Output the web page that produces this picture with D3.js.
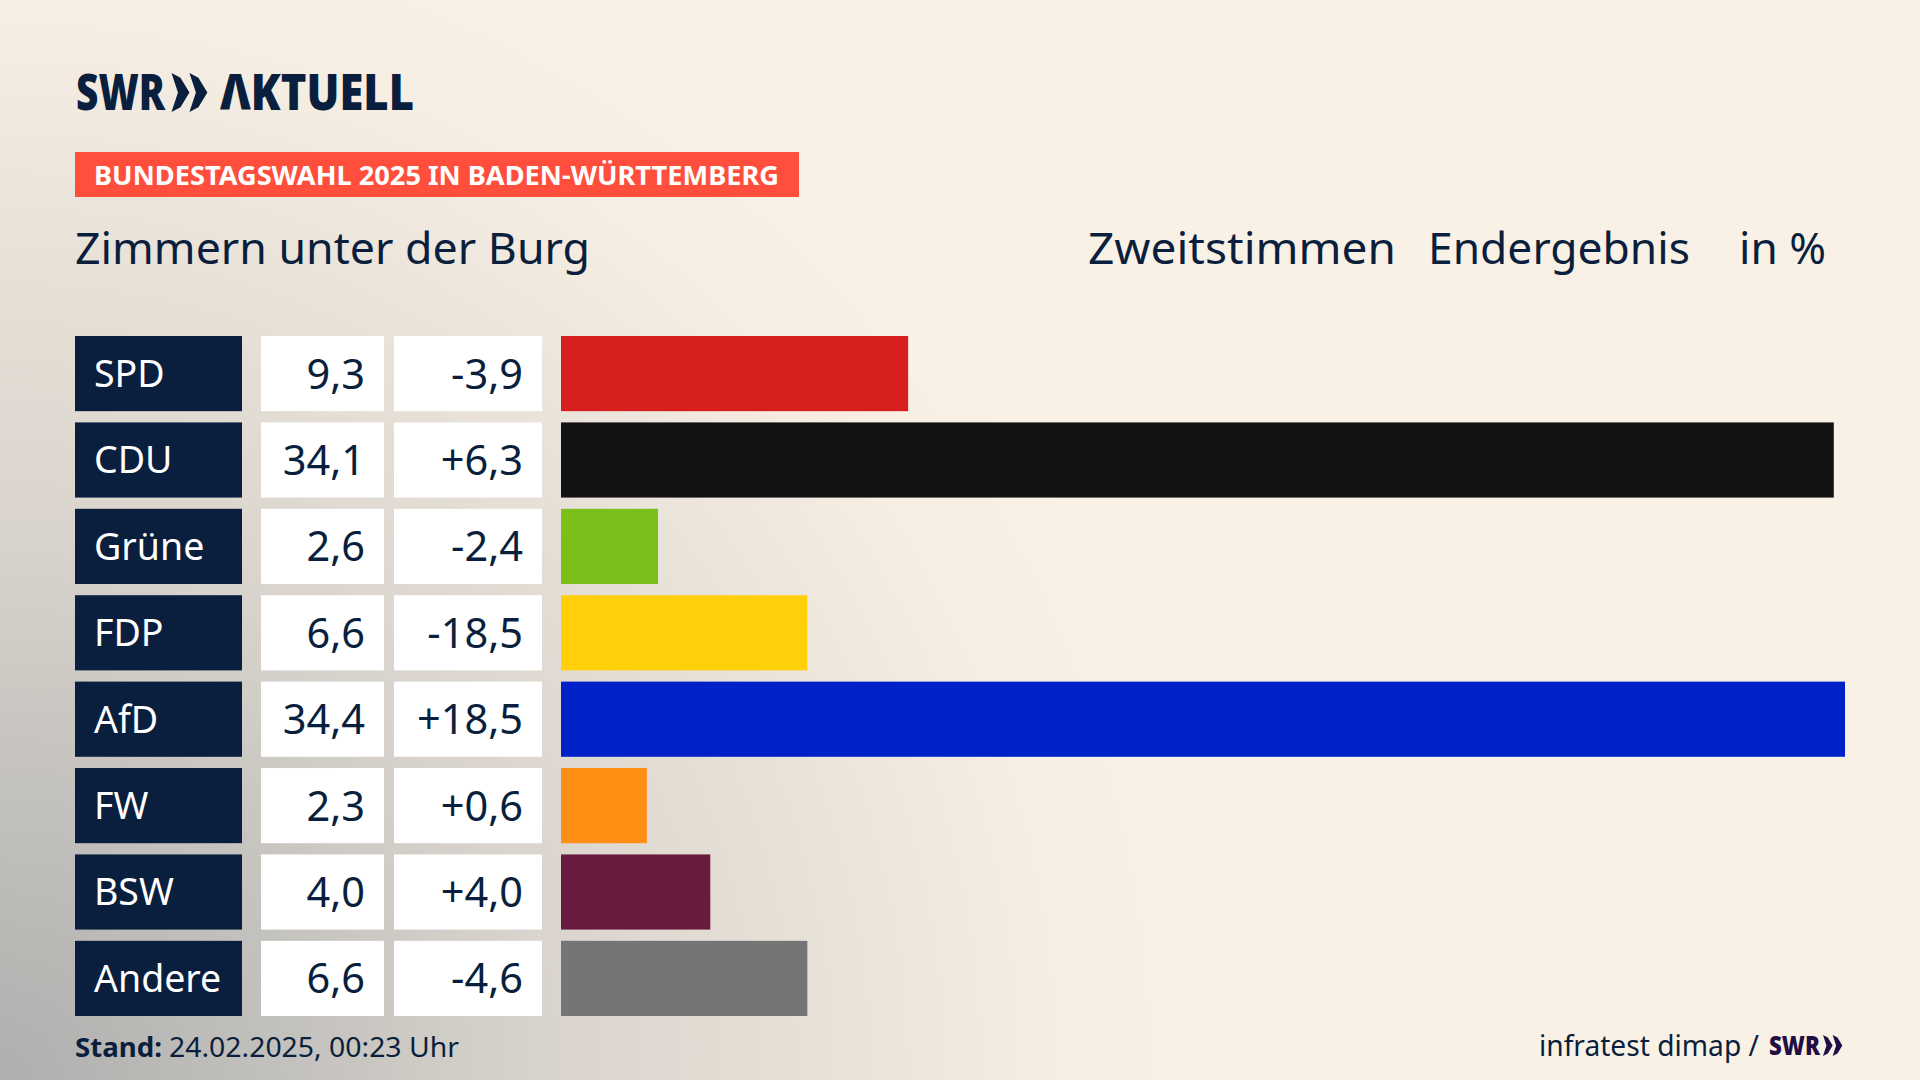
<!DOCTYPE html>
<html>
<head>
<meta charset="utf-8">
<script src="https://cdn.jsdelivr.net/npm/d3@7"></script>
<style>
html, body { margin: 0; padding: 0; background: #faf1e6; }
svg { display: block; }
text { font-family: "Noto Sans", sans-serif; fill: #0a1f3d; }
</style>
</head>
<body>
<svg id="chart" width="1920" height="1080"></svg>
<script>
var parties = ["SPD", "CDU", "Grüne", "FDP", "AfD", "FW", "BSW", "Andere"];
var results = [9.3, 34.1, 2.6, 6.6, 34.4, 2.3, 4.0, 6.6];
var changes = [-3.9, 6.3, -2.4, -18.5, 18.5, 0.6, 4.0, -4.6];
var colors = ["#d81f1f", "#121212", "#7abf1a", "#ffcf0a", "#0021c8", "#ff8f14", "#691a3e", "#737577"];

var navy = "#0a1f3d";
var de = d3.formatLocale({decimal: ",", thousands: ".", grouping: [3], currency: ["", "€"], minus: "-"});
var fmtValue = de.format(".1f");
var fmtChange = de.format("+.1f");

var svg = d3.select("#chart");

// background, grey corner bottom left
var defs = svg.append("defs");
var grad = defs.append("radialGradient")
    .attr("id", "corner")
    .attr("gradientUnits", "userSpaceOnUse")
    .attr("cx", 0).attr("cy", 0).attr("r", 1)
    .attr("gradientTransform", "translate(0,1080) scale(1200,1200)");
[[0, "#afafae"], [0.25, "#c4c2be"], [0.45, "#d8d3cc"], [0.65, "#e6dfd6"], [0.88, "#f6eee3"], [1, "#faf1e6"]].forEach(function(s) {
    grad.append("stop").attr("offset", s[0]).attr("stop-color", s[1]);
});
svg.append("rect").attr("width", 1920).attr("height", 1080).attr("fill", "url(#corner)");

var x = d3.scaleLinear().domain([0, 34.4]).range([561, 1845]);
var y = d3.scaleBand().domain(parties).range([336, 1016]).paddingInner(0.13);

var rows = svg.selectAll("g.row")
    .data(parties)
    .enter()
    .append("g")
    .attr("class", "row")
    .attr("transform", function(d) { return "translate(0," + y(d) + ")"; });

rows.append("rect")
    .attr("x", 75).attr("width", 167).attr("height", y.bandwidth())
    .attr("fill", navy);
rows.append("rect")
    .attr("x", 261).attr("width", 123).attr("height", y.bandwidth())
    .attr("fill", "#fff");
rows.append("rect")
    .attr("x", 394).attr("width", 148).attr("height", y.bandwidth())
    .attr("fill", "#fff");
rows.append("rect")
    .attr("x", x(0))
    .attr("width", function(d, i) { return x(results[i]) - x(0); })
    .attr("height", y.bandwidth())
    .attr("fill", function(d, i) { return colors[i]; });

rows.append("text")
    .attr("x", 94).attr("y", 51)
    .style("font-size", "37.5px")
    .style("fill", "#fff")
    .text(function(d) { return d; });
rows.append("text")
    .attr("x", 365).attr("y", 52.5)
    .attr("text-anchor", "end")
    .style("font-size", "41.5px")
    .text(function(d, i) { return fmtValue(results[i]); });
rows.append("text")
    .attr("x", 523).attr("y", 52.5)
    .attr("text-anchor", "end")
    .style("font-size", "41.5px")
    .text(function(d, i) { return fmtChange(changes[i]); });

// fixed width text, the original typeface is narrower than Noto Sans
function label(str, left, base, size, width, weight, color) {
    return svg.append("text")
        .attr("x", left).attr("y", base)
        .attr("textLength", width)
        .attr("lengthAdjust", "spacingAndGlyphs")
        .style("font-size", size + "px")
        .style("font-weight", weight || 400)
        .style("fill", color || navy)
        .text(str);
}

function chevrons(left, top, h, color) {
    var w = h * 0.46;
    [0, w].forEach(function(off) {
        var p = d3.path();
        p.moveTo(left + off, top);
        p.lineTo(left + off + w * 0.5, top + h * 0.12);
        p.lineTo(left + off + w, top + h / 2);
        p.lineTo(left + off + w * 0.5, top + h * 0.88);
        p.lineTo(left + off, top + h);
        p.lineTo(left + off + w * 0.36, top + h / 2);
        p.closePath();
        svg.append("path").attr("d", p.toString()).attr("fill", color);
    });
}

label("SWR", 76, 110, 49, 89, 900);
chevrons(171.5, 73, 39, navy);
label("ΛKTUELL", 220, 110, 49, 194, 900);

svg.append("rect").attr("x", 75).attr("y", 152).attr("width", 724).attr("height", 45).attr("fill", "#ff4f3c");
label("BUNDESTAGSWAHL 2025 IN BADEN-WÜRTTEMBERG", 94, 184.5, 27, 685, 700, "#fff");

label("Zimmern unter der Burg", 75, 264, 44.5, 515);
label("Zweitstimmen", 1088, 264, 44.5, 308);
label("Endergebnis", 1428, 264, 44.5, 262);
label("in %", 1739, 264, 44.5, 87);

label("Stand:", 75, 1057, 27, 87, 700);
label("24.02.2025, 00:23 Uhr", 169, 1057, 27, 290);
label("infratest dimap /", 1539, 1056, 29, 220);
label("SWR", 1769, 1055, 27, 51, 900, "#1f0f45");
chevrons(1823, 1035, 21, "#1f0f45");
</script>
</body>
</html>
